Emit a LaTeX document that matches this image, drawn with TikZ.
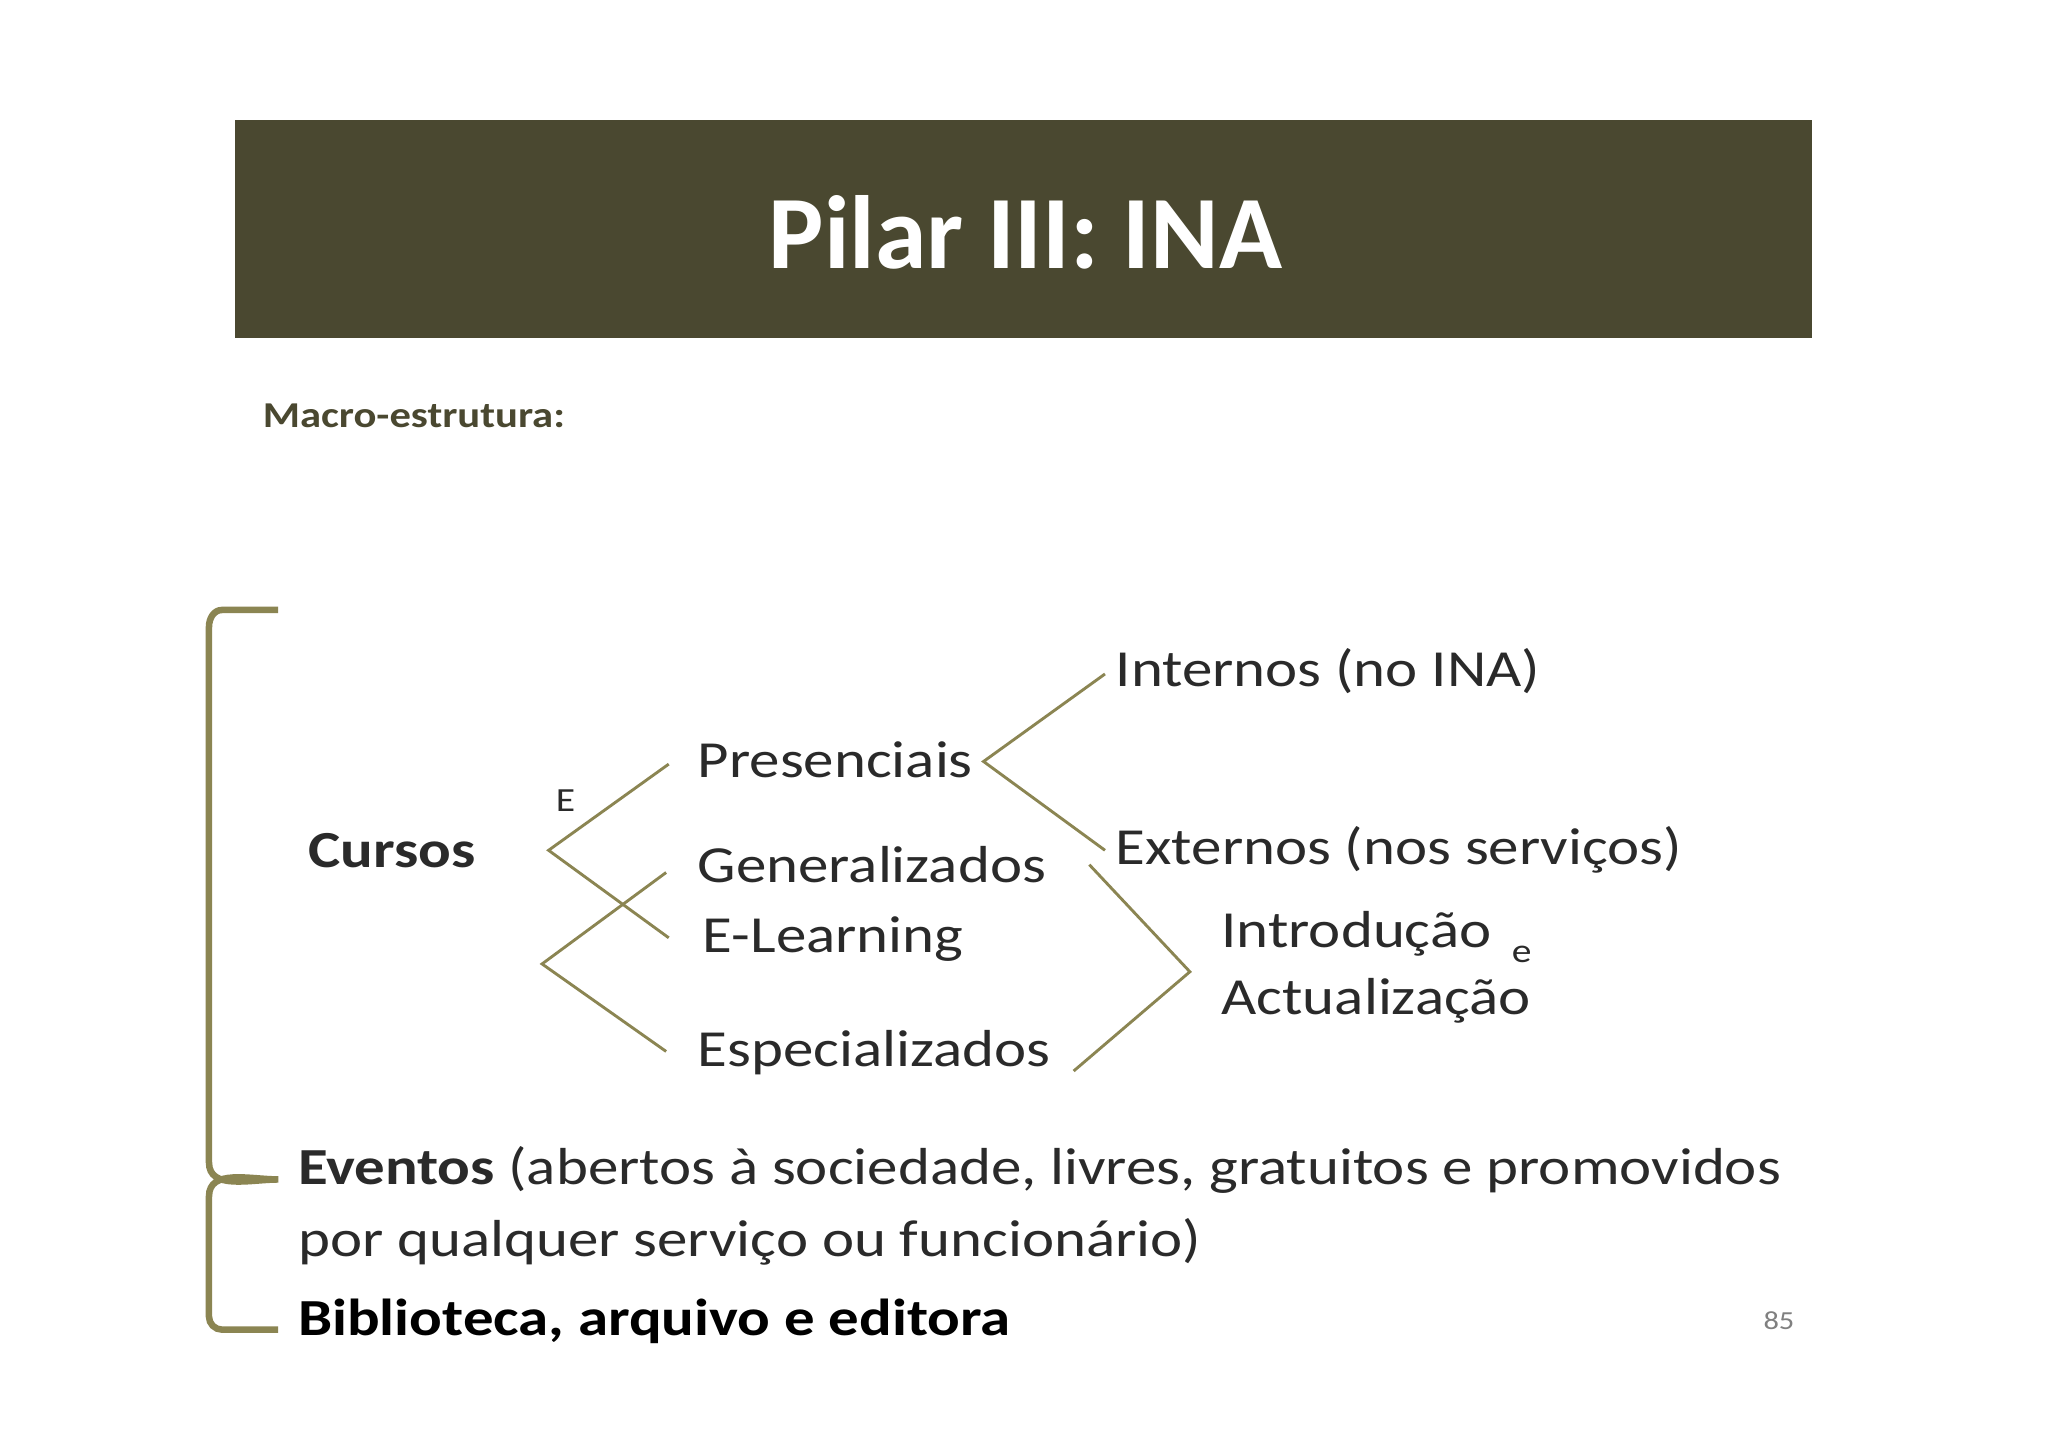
\documentclass[tikz,border=0pt]{standalone}
\usepackage{fontspec}
\setmainfont{Carlito}
\newfontfamily\bodyf[FakeStretch=1.17]{Carlito}
\definecolor{hdr}{HTML}{4A4830}
\definecolor{oliv}{HTML}{8B8552}
\definecolor{txt}{HTML}{2A2A2A}
\begin{document}
\begin{tikzpicture}[x=1bp,y=-1bp,
 lbl/.style={anchor=west,inner sep=0pt,text=txt,font=\bodyf\fontsize{40}{48}\selectfont},
 br/.style={draw=oliv,line width=2.2bp},
 bk/.style={draw=oliv,line width=5bp}]
\useasboundingbox[fill=white] (0,0) rectangle (1568,1108);
\fill[hdr] (180,92) rectangle (1387,259);
\node[text=white,font=\fontsize{80}{90}\selectfont\bfseries] (title) at (785,178) {Pilar III: INA};
\node[anchor=west,inner sep=0pt,text=hdr,font=\bodyf\fontsize{28}{32}\selectfont\bfseries] (macro) at (201,318) {Macro-estrutura:};
\draw[bk] (213,467) -- (170,467) to[out=180,in=90] (160,480) -- (160,890) to[out=-90,in=180] (213,903) to[out=180,in=90] (160,916) -- (160,1008) to[out=-90,in=180] (170,1018) -- (213,1018);
\node[lbl,anchor=center,font=\bodyf\fontsize{40}{48}\selectfont\bfseries] (cursos) at (300,651) {Cursos};
\node[lbl,anchor=center,font=\bodyf\fontsize{26}{30}\selectfont] (E) at (433,613) {E};
\coordinate (c1) at (420,651); \coordinate (c2) at (415,738);
\coordinate (p) at (512,585); \coordinate (el) at (512,718);
\coordinate (g) at (510,668); \coordinate (es) at (510,805);
\draw[br] (p) -- (c1) -- (el);
\draw[br] (g) -- (c2) -- (es);
\node[lbl] (pres) at (534,582) {Presenciais};
\node[lbl] (gen) at (534,662) {Generalizados};
\node[lbl] (elrn) at (538,719) {E-Learning};
\node[lbl] (esp) at (534,806) {Especializados};
\coordinate (c3) at (753,583); \coordinate (i1) at (846,516); \coordinate (x1) at (846,651);
\draw[br] (i1) -- (c3) -- (x1);
\node[lbl] (int) at (854,514) {Internos (no INA)};
\node[lbl] (ext) at (854,651) {Externos (nos serviços)};
\coordinate (c4) at (911,744); \coordinate (a1) at (834,662); \coordinate (a2) at (822,820);
\draw[br] (a1) -- (c4) -- (a2);
\node[lbl] (intr) at (935,715) {Introdução};
\node[lbl,anchor=center,font=\bodyf\fontsize{26}{30}\selectfont] (e) at (1165,731) {e};
\node[lbl] (act) at (935,766) {Actualização};
\node[lbl] (ev1) at (228,896) {\textbf{Eventos} (abertos à sociedade, livres, gratuitos e promovidos};
\node[lbl] (ev2) at (228,951) {por qualquer serviço ou funcionário)};
\node[lbl,font=\bodyf\fontsize{40}{48}\selectfont\bfseries,text=black] (bib) at (228,1012) {Biblioteca, arquivo e editora};
\node[text=gray,font=\bodyf\fontsize{20}{24}\selectfont] (num) at (1362,1011) {85};
\end{tikzpicture}
\end{document}
